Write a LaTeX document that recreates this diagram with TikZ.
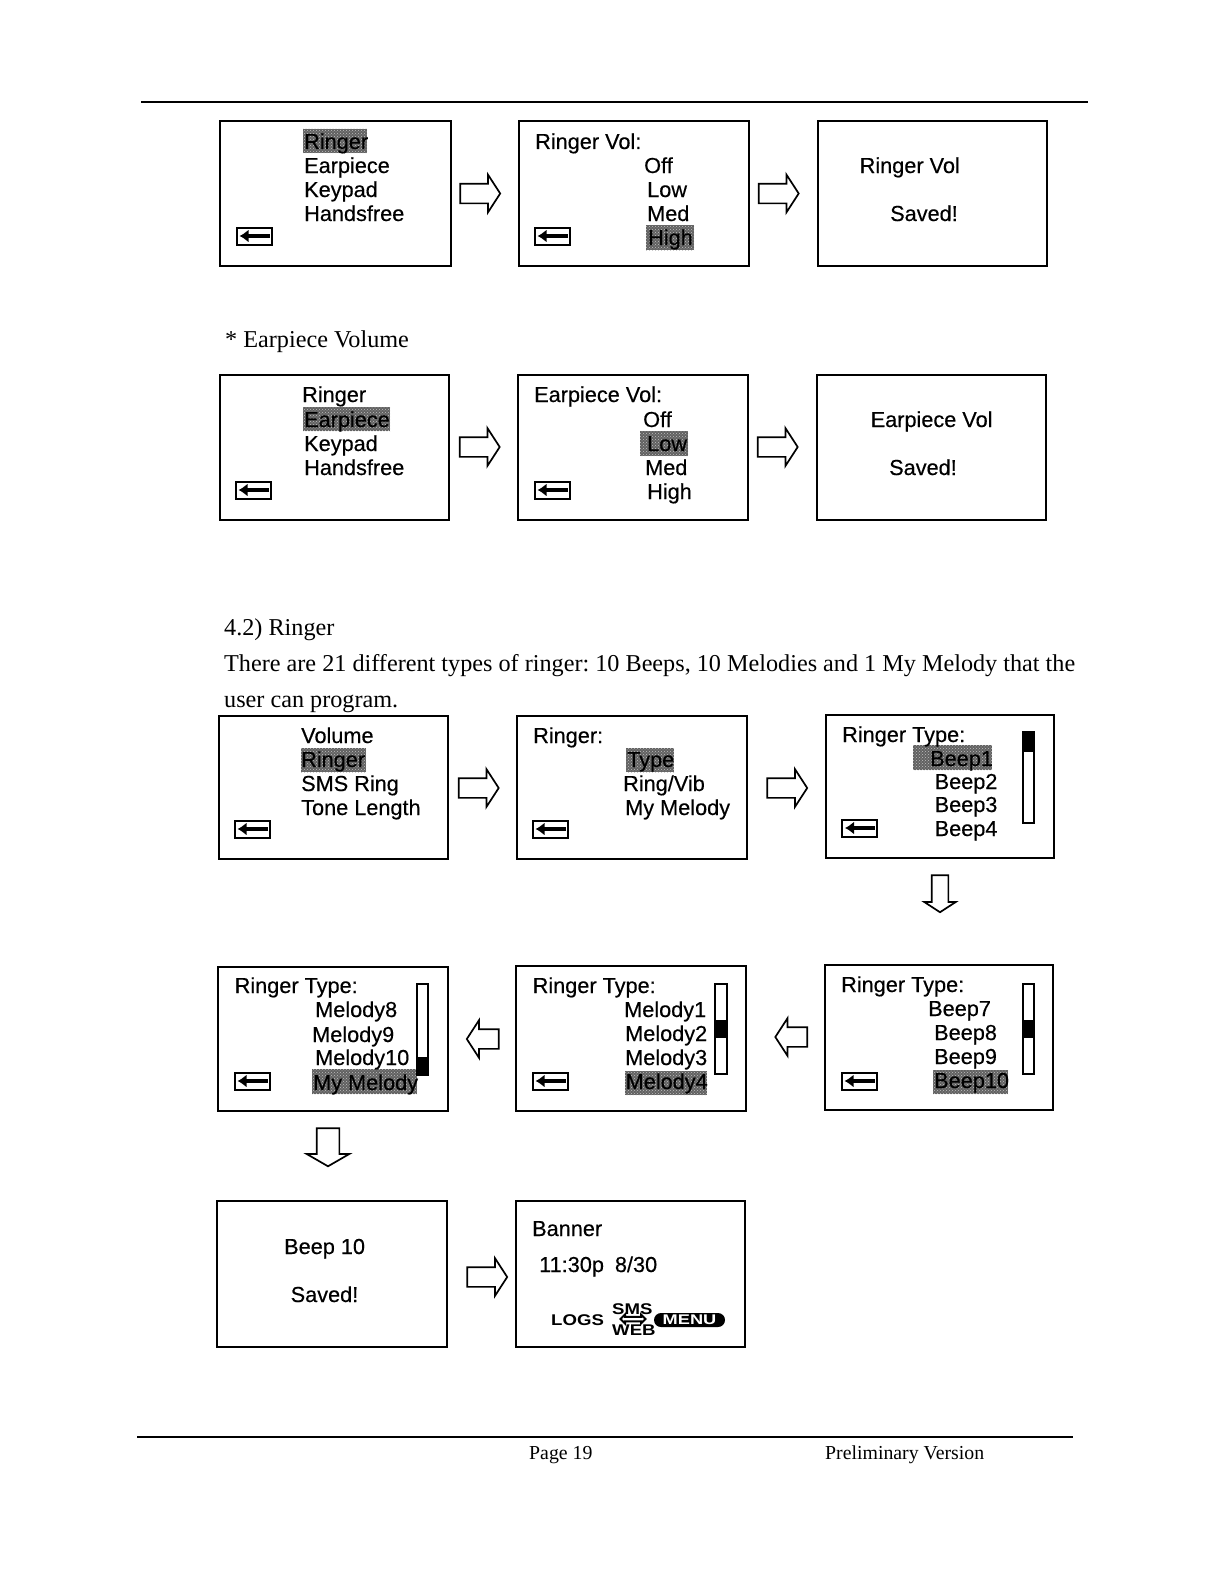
\documentclass[tikz,border=0pt]{standalone}
\usepackage{fontspec}
\setmainfont{Liberation Serif}
\newfontfamily\arfont[FakeBold=0.35]{Liberation Sans}
\newfontfamily\arbold{Liberation Sans Bold}
\usetikzlibrary{fit,shapes.arrows,arrows.meta,patterns}
\tikzset{
  screen/.style={draw=black,line width=1.8pt,inner sep=0pt,fill=white},
  hilite/.style={fill=black!62,draw=none,inner sep=0pt,postaction={pattern=crosshatch dots,pattern color=black!25}},
  lab/.style={anchor=base west,inner sep=0pt,font=\arfont\fontsize{21.7}{24}\selectfont,text=black},
  prose/.style={anchor=base west,inner sep=0pt,font=\frenchspacing\fontsize{24.2}{28}\selectfont,text=black},
  foot/.style={anchor=base west,inner sep=0pt,font=\fontsize{19.8}{24}\selectfont,text=black},
  iconbox/.style={draw=black,line width=2pt,inner sep=0pt,minimum width=35pt,minimum height=17pt},
  iconarrow/.style={-{Latex[length=9pt,width=13pt]},line width=4.5pt},
  blockh/.style={draw=black,line width=1.7pt,fill=white,single arrow,inner sep=0pt,
    text width=0pt,text height=18pt,text depth=0pt,
    minimum height=40pt,single arrow head extend=9pt,single arrow tip angle=114},
  blockleft/.style={blockh,minimum height=32pt,rotate=180},
  blockdown/.style={blockh,rotate=-90,minimum height=37pt,text height=15pt,single arrow head extend=7.5pt},
  blockdownb/.style={blockh,rotate=-90,minimum height=38pt,text height=21pt,single arrow head extend=10pt,single arrow tip angle=120},
  scrollbar/.style={draw=black,line width=1.6pt,inner sep=0pt,fill=white},
  scrollfill/.style={fill=black,draw=none,inner sep=0pt},
  wide/.style={anchor=base west,inner sep=0pt,font=\arbold\fontsize{15.5}{16}\selectfont,xscale=1.2},
  rule/.style={line width=1.8pt,draw=black}
}
\newcommand{\scr}[5]{\node[screen,fit={(#2,#3)(#4,#5)}] (#1) {};}
\newcommand{\hl}[5]{\node[hilite,fit={(#2,#3)(#4,#5)}] (#1) {};}
\newcommand{\tx}[4]{\node[lab] (#1) at (#2,#3) {#4};}
\newcommand{\bk}[3]{\node[iconbox] (#1) at (#2,#3) {};
  \draw[iconarrow] ([xshift=-3pt]#1.east) -- ([xshift=4pt]#1.west);}
\newcommand{\sbar}[7]{\node[scrollbar,fit={(#2,#3)(#4,#5)}] (#1) {};
  \node[scrollfill,fit={(#2,#6)(#4,#7)}] (#1f) {};}
\begin{document}
\begin{tikzpicture}[x=1pt,y=-1pt]
\useasboundingbox[fill=white] (0,0) rectangle (1212,1584);
% page rules
\coordinate (ta) at (141,102); \coordinate (tb) at (1088,102);
\draw[rule] (ta) -- (tb);
\coordinate (ba) at (137,1437); \coordinate (bb) at (1073,1437);
\draw[rule,line width=1.2pt] (ba) -- (bb);
% row 1
\scr{a1}{220}{121}{451}{266}
\hl{a1h}{303}{129}{367}{153}
\tx{a1t1}{304}{149}{Ringer}
\tx{a1t2}{304}{173}{Earpiece}
\tx{a1t3}{304}{197}{Keypad}
\tx{a1t4}{304}{221}{Handsfree}
\bk{a1b}{254}{236}
\node[blockh] (ar1) at (477,193.5) {};
\scr{a2}{519}{121}{749}{266}
\hl{a2h}{646}{225}{694}{250}
\tx{a2t0}{535}{149}{Ringer Vol:}
\tx{a2t1}{644}{173}{Off}
\tx{a2t2}{647}{197}{Low}
\tx{a2t3}{647}{221}{Med}
\tx{a2t4}{648}{245}{High}
\bk{a2b}{552}{236}
\node[blockh] (ar2) at (775.5,193.5) {};
\scr{a3}{818}{121}{1047}{266}
\tx{a3t1}{859.5}{173}{Ringer Vol}
\tx{a3t2}{890}{221}{Saved!}
% earpiece
\node[prose] (h1) at (225,347) {* Earpiece Volume};
\scr{b1}{220}{375}{449}{520}
\hl{b1h}{303}{407}{390}{431}
\tx{b1t1}{302}{402}{Ringer}
\tx{b1t2}{304}{427}{Earpiece}
\tx{b1t3}{304}{451}{Keypad}
\tx{b1t4}{304}{475}{Handsfree}
\bk{b1b}{253}{490}
\node[blockh] (br1) at (476.5,447) {};
\scr{b2}{518}{375}{748}{520}
\hl{b2h}{640}{431}{688}{456}
\tx{b2t0}{534}{402}{Earpiece Vol:}
\tx{b2t1}{643}{427}{Off}
\tx{b2t2}{647}{451}{Low}
\tx{b2t3}{645}{475}{Med}
\tx{b2t4}{647}{499}{High}
\bk{b2b}{552}{490}
\node[blockh] (br2) at (774.5,447) {};
\scr{b3}{817}{375}{1046}{520}
\tx{b3t1}{870.5}{427}{Earpiece Vol}
\tx{b3t2}{889}{475}{Saved!}
% prose
\node[prose] (h2) at (224,635) {4.2) Ringer};
\node[prose] (h3) at (224,671) {There are 21 different types of ringer: 10 Beeps, 10 Melodies and 1 My Melody that the};
\node[prose] (h4) at (224,707) {user can program.};
% row 3
\scr{c1}{219}{716}{448}{859}
\hl{c1h}{301}{748}{366}{772}
\tx{c1t1}{301}{743}{Volume}
\tx{c1t2}{301}{767}{Ringer}
\tx{c1t3}{301}{791}{SMS Ring}
\tx{c1t4}{301}{815}{Tone Length}
\bk{c1b}{252}{829}
\node[blockh] (cr1) at (475.5,788) {};
\scr{c2}{517}{716}{747}{859}
\hl{c2h}{626}{748}{674}{772}
\tx{c2t0}{533}{743}{Ringer:}
\tx{c2t1}{627}{767}{Type}
\tx{c2t2}{623}{791}{Ring/Vib}
\tx{c2t3}{625}{815}{My Melody}
\bk{c2b}{550}{829}
\node[blockh] (cr2) at (784,788) {};
\scr{c3}{826}{715}{1054}{858}
\hl{c3h}{913}{745}{992}{770}
\tx{c3t0}{842}{742}{Ringer Type:}
\tx{c3t1}{930}{766}{Beep1}
\tx{c3t2}{934.5}{789}{Beep2}
\tx{c3t3}{934.5}{812}{Beep3}
\tx{c3t4}{934.5}{836}{Beep4}
\sbar{c3s}{1023}{732}{1034}{823}{732}{752}
\bk{c3b}{859.5}{828}
\node[blockdown] (cr3) at (940,891) {};
% row 4
\scr{d1}{218}{967}{448}{1111}
\hl{d1h}{312}{1069}{417}{1094}
\tx{d1t0}{234.5}{993}{Ringer Type:}
\tx{d1t1}{315}{1017}{Melody8}
\tx{d1t2}{312}{1042}{Melody9}
\tx{d1t3}{315}{1065}{Melody10}
\tx{d1t4}{313}{1090}{My Melody}
\sbar{d1s}{417}{984}{428}{1075}{1057}{1075}
\bk{d1b}{252}{1081}
\node[blockleft] (dr1) at (486,1039) {};
\scr{d2}{516}{966}{746}{1111}
\hl{d2h}{625}{1071}{707}{1095}
\tx{d2t0}{532.5}{993}{Ringer Type:}
\tx{d2t1}{624}{1017}{Melody1}
\tx{d2t2}{625}{1041}{Melody2}
\tx{d2t3}{625}{1065}{Melody3}
\tx{d2t4}{625.5}{1089}{Melody4}
\sbar{d2s}{715}{984}{727}{1074}{1020}{1038}
\bk{d2b}{550}{1081}
\node[blockleft] (dr2) at (794.5,1037) {};
\scr{d3}{825}{965}{1053}{1110}
\hl{d3h}{933}{1070}{1008}{1094}
\tx{d3t0}{841}{992}{Ringer Type:}
\tx{d3t1}{928}{1016}{Beep7}
\tx{d3t2}{934}{1040}{Beep8}
\tx{d3t3}{934}{1064}{Beep9}
\tx{d3t4}{934}{1088}{Beep10}
\sbar{d3s}{1023}{984}{1034}{1074}{1020}{1038}
\bk{d3b}{859}{1081}
\node[blockdownb] (dr3) at (328,1144) {};
% row 5
\scr{e1}{217}{1201}{447}{1347}
\tx{e1t1}{284}{1254}{Beep 10}
\tx{e1t2}{290.5}{1302}{Saved!}
\node[blockh] (er1) at (484,1277) {};
\scr{e2}{516}{1201}{745}{1347}
\tx{e2t1}{532}{1236}{Banner}
\tx{e2t2}{539}{1272}{11:30p\hspace{11pt}8/30}
\node[wide] (e2l) at (551,1325) {LOGS};
\node[wide] (e2s) at (612,1314) {SMS};
\node[wide] (e2w) at (612,1335) {WEB};
\node[draw=black,line width=2pt,fill=white,double arrow,inner sep=0pt,minimum height=25pt,minimum width=9pt,double arrow head extend=1pt] (e2d) at (633,1319) {};
\node[fill=black,rounded corners=7pt,inner sep=0pt,minimum width=71pt,minimum height=14pt] (e2m) at (689.5,1320) {};
\node[inner sep=0pt,text=white,font=\arbold\fontsize{14}{14}\selectfont,xscale=1.3] (e2mt) at (e2m) {MENU};
% footer
\node[foot] (f1) at (529,1459) {Page 19};
\node[foot] (f2) at (825,1459) {Preliminary Version};
\end{tikzpicture}
\end{document}
